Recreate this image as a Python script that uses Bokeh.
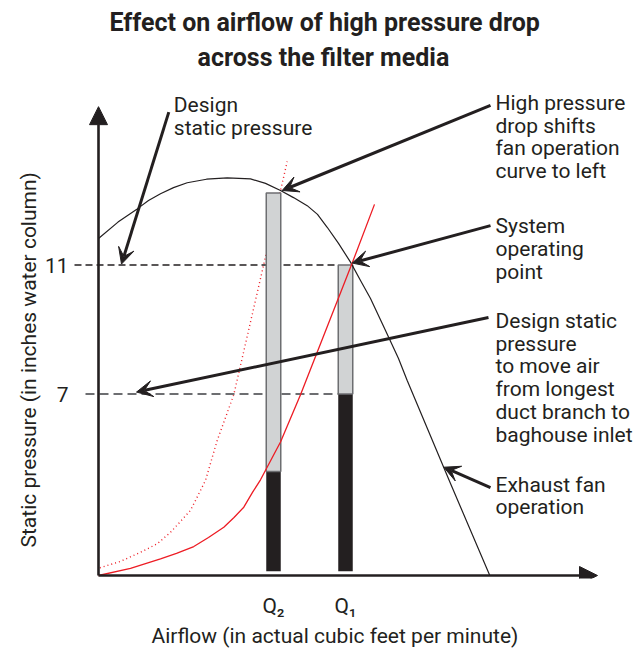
from bokeh.plotting import figure
from bokeh.models import Arrow, VeeHead, NormalHead, Label, FixedTicker, Range1d, Title
from bokeh.embed import file_html
from bokeh.resources import INLINE

# ---------------- data (airflow in arbitrary units, pressure in inches w.c.) ----------------
fan_x = [0.0, 1.95, 3.87, 5.0, 6.2, 7.5, 8.87, 10.8, 12.87, 15.2, 16.7, 18.2, 19.5, 20.87, 21.9, 22.87,
         24.0, 25.2, 26.2, 27.2, 28.7, 30.0, 30.87, 35.2, 39.13]
fan_p = [11.82, 12.33, 12.74, 13.0, 13.21, 13.40, 13.55, 13.66, 13.70, 13.67, 13.53, 13.31, 13.09, 12.84, 12.57, 12.17,
         11.67, 11.09, 10.52, 9.96, 8.97, 8.10, 7.42, 4.225, 1.37]

system_x = [0.0, 3.2, 6.2, 7.8, 9.53, 11.0, 12.53, 13.55, 14.53, 15.4, 16.2, 18.2, 20.2, 25.37, 27.6]
system_p = [1.372, 1.59, 1.89, 2.055, 2.27, 2.55, 2.87, 3.17, 3.49, 3.95, 4.34, 5.51, 6.98, 11.06, 12.88]

shifted_x = [0.13, 2.2, 4.2, 5.9, 7.2, 9.2, 10.7, 11.87, 13.53, 16.2, 18.87]
shifted_p = [1.61, 1.81, 2.09, 2.36, 2.71, 3.39, 4.32, 5.56, 6.98, 10.58, 14.21]

bar_q = [17.5, 24.7]          # Q2, Q1
bar_top = [13.23, 11.0]
bar_split = [4.6, 7.0]
bar_base = [1.5, 1.5]

x_ticks = [17.5, 24.7]
x_tick_labels = ["Q\u2082", "Q\u2081"]
y_ticks = [7, 11]

operating_pressure = 11.0
design_pressure = 7.0
origin_x = 0.0
origin_p = 1.372
axis_end_x = 49.9
axis_end_p = 15.91

title_lines = ["Effect on airflow of high pressure drop", "across the filter media"]
x_label = "Airflow (in actual cubic feet per minute)"
y_label = "Static pressure (in inches water column)"

INK = "#231f20"
RED = "#ed1c24"
GREY = "#6d6e71"
LIGHT = "#d1d3d4"
FONT = "Roboto"

p = figure(width=644, height=649, output_backend="svg", toolbar_location=None, title=None,
           x_range=Range1d(-2.6, 54.6), y_range=Range1d(1.279, 16.473),
           min_border_left=72, min_border_right=0, min_border_top=88, min_border_bottom=71)
p.outline_line_color = None
p.grid.grid_line_color = None
p.background_fill_color = "white"
p.border_fill_color = "white"

# axes (tick labels only; axis lines drawn as arrows)
p.yaxis.ticker = FixedTicker(ticks=y_ticks)
p.yaxis.axis_line_color = None
p.yaxis.major_tick_line_color = None
p.yaxis.major_tick_out = 0
p.yaxis.major_tick_in = 0
p.yaxis.minor_tick_line_color = None
p.yaxis.major_label_text_font = FONT
p.yaxis.major_label_text_font_size = "21px"
p.yaxis.major_label_text_color = INK
p.yaxis.major_label_standoff = 4

p.xaxis.ticker = FixedTicker(ticks=x_ticks)
p.xaxis.major_label_overrides = dict(zip(x_ticks, x_tick_labels))
p.xaxis.axis_line_color = None
p.xaxis.major_tick_line_color = None
p.xaxis.major_tick_out = 0
p.xaxis.major_tick_in = 0
p.xaxis.minor_tick_line_color = None
p.xaxis.major_label_text_font = FONT
p.xaxis.major_label_text_font_size = "21px"
p.xaxis.major_label_text_color = INK
p.xaxis.major_label_standoff = 15

# titles (main title on two centred lines, axis titles positioned like the original)
p.add_layout(Title(text=title_lines[1], align="left", offset=125, text_font=FONT, text_font_size="25px",
                   text_font_style="bold", text_color=INK, standoff=34), "above")
p.add_layout(Title(text=title_lines[0], align="left", offset=37, text_font=FONT, text_font_size="25px",
                   text_font_style="bold", text_color=INK, standoff=-26), "above")
p.add_layout(Title(text=y_label, align="left", offset=31, text_font=FONT, text_font_size="21px",
                   text_font_style="normal", text_color=INK, standoff=2), "left")
p.add_layout(Title(text=x_label, align="left", offset=79, text_font=FONT, text_font_size="21px",
                   text_font_style="normal", text_color=INK, standoff=3), "below")

# dashed reference lines
p.line([-2.4, 24.0], [operating_pressure, operating_pressure], line_color=INK, line_width=1.3, line_dash="7 4")
p.line([-1.3, 24.0], [design_pressure, design_pressure], line_color=GREY, line_width=2, line_dash="9 5")

# shifted system curve (dotted)
p.line(shifted_x, shifted_p, line_color=RED, line_width=1.4, line_dash="1 3")

# bars
p.vbar(x=bar_q, width=1.45, bottom=bar_base, top=bar_split, fill_color=INK, line_color=None)
p.vbar(x=bar_q, width=1.45, bottom=bar_split, top=bar_top, fill_color=LIGHT, line_color=GREY, line_width=1.5)

# fan curve and system curve
p.line(fan_x, fan_p, line_color=INK, line_width=1.2)
p.line(system_x, system_p, line_color=RED, line_width=1.3)

# axis lines with arrow heads
p.add_layout(Arrow(end=NormalHead(size=18, fill_color=INK, line_color=INK), x_start=origin_x, y_start=origin_p,
                   x_end=origin_x, y_end=axis_end_p, line_color=INK, line_width=2.6))
p.add_layout(Arrow(end=NormalHead(size=18, fill_color=INK, line_color=INK), x_start=origin_x, y_start=origin_p,
                   x_end=axis_end_x, y_end=origin_p, line_color=INK, line_width=2.6))

# callouts: arrow start, arrow tip, text anchor, text
callouts = [
    (7.03, 15.74, 2.3, 11.03, 7.53, 16.34, "Design\nstatic pressure"),
    (39.2, 15.95, 18.37, 13.31, 39.7, 16.40, "High pressure\ndrop shifts\nfan operation\ncurve to left"),
    (39.2, 12.22, 25.37, 11.06, 39.7, 12.58, "System\noperating\npoint"),
    (39.0, 9.37, 3.8, 7.06, 39.7, 9.64, "Design static\npressure\nto move air\nfrom longest\nduct branch to\nbaghouse inlet"),
    (39.2, 4.10, 34.53, 4.73, 39.7, 4.56, "Exhaust fan\noperation"),
]
for xs, ys, xe, ye, tx, ty, txt in callouts:
    p.add_layout(Arrow(end=VeeHead(size=16, fill_color=INK, line_color=INK), x_start=xs, y_start=ys,
                       x_end=xe, y_end=ye, line_color=INK, line_width=3))
    p.add_layout(Label(x=tx, y=ty, text=txt, text_font=FONT, text_font_size="21px",
                       text_color=INK, text_baseline="top", text_align="left", text_line_height=0.95))

open("out.html", "w").write(file_html(p, INLINE))
